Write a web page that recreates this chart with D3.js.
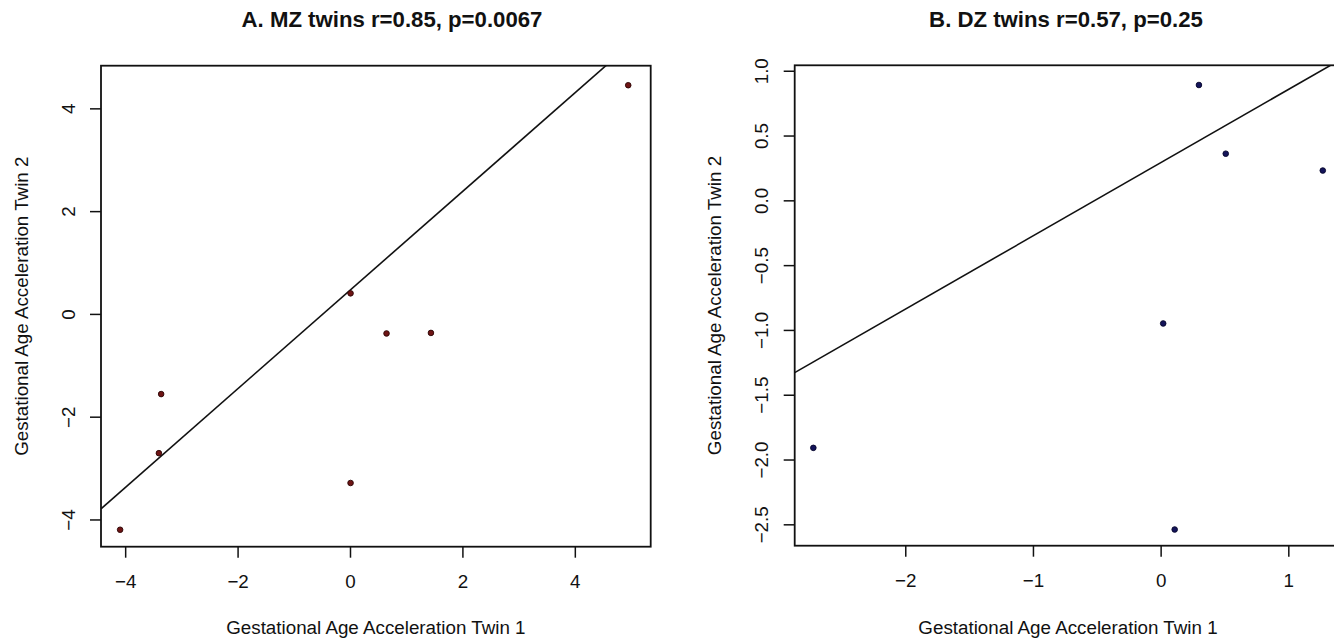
<!DOCTYPE html>
<html>
<head>
<meta charset="utf-8">
<script src="https://cdn.jsdelivr.net/npm/d3@7"></script>
<style>
  html, body { margin: 0; padding: 0; background: #ffffff; }
  svg { display: block; }
  text { font-family: "Liberation Sans", Arial, Helvetica, sans-serif; fill: #111; }
</style>
</head>
<body>
<svg id="chart" width="1334" height="640"></svg>
<script>
// Panel A: monozygotic twin pairs (twin 1 vs twin 2 gestational age acceleration)
const mzTwin1 = [0.01, 0.65, 1.44, -3.36, -3.40, 0.01, -4.09, 4.95];
const mzTwin2 = [0.40, -0.38, -0.37, -1.56, -2.71, -3.29, -4.20, 4.45];
const mzFit = { intercept: 0.46, slope: 0.96 };
const mzXLim = [-4.43, 5.35];
const mzYLim = [-4.53, 4.83];
const mzXTicks = [-4, -2, 0, 2, 4];
const mzYTicks = [-4, -2, 0, 2, 4];

// Panel B: dizygotic twin pairs
const dzTwin1 = [-2.72, 0.30, 0.51, 1.27, 0.02, 0.11];
const dzTwin2 = [-1.91, 0.89, 0.36, 0.23, -0.95, -2.54];
const dzFit = { intercept: 0.29, slope: 0.565 };
const dzXLim = [-2.866, 1.415];
const dzYLim = [-2.665, 1.042];
const dzXTicks = [-2, -1, 0, 1];
const dzYTicks = [-2.5, -2.0, -1.5, -1.0, -0.5, 0.0, 0.5, 1.0];

const titles = ["A. MZ twins r=0.85, p=0.0067", "B. DZ twins r=0.57, p=0.25"];
const xLabel = "Gestational Age Acceleration Twin 1";
const yLabel = "Gestational Age Acceleration Twin 2";

const svg = d3.select("#chart");
const BASE = 18.8;

function panel(cfg) {
  const { box, xs, ys, xLim, yLim, xTicks, yTicks, fit, title, titleX, fill, stroke, yFmt, clipId } = cfg;
  const x = d3.scaleLinear().domain(xLim).range([box.left, box.right]);
  const y = d3.scaleLinear().domain(yLim).range([box.bottom, box.top]);
  const g = svg.append("g");

  g.append("clipPath").attr("id", clipId)
    .append("rect")
    .attr("x", box.left).attr("y", box.top)
    .attr("width", box.right - box.left).attr("height", box.bottom - box.top);

  // fitted line, clipped to the plotting region
  const line = d3.line().x(d => x(d)).y(d => y(fit.intercept + fit.slope * d));
  g.append("path")
    .attr("clip-path", `url(#${clipId})`)
    .attr("d", line(xLim))
    .attr("fill", "none")
    .attr("stroke", "#111")
    .attr("stroke-width", 1.6);

  // points
  g.append("g").selectAll("circle")
    .data(xs.map((v, i) => [v, ys[i]]))
    .join("circle")
    .attr("cx", d => x(d[0]))
    .attr("cy", d => y(d[1]))
    .attr("r", 2.8)
    .attr("fill", fill)
    .attr("stroke", stroke)
    .attr("stroke-width", 0.9);

  // x axis
  const xa = g.append("g")
    .attr("transform", `translate(0,${box.bottom})`)
    .call(d3.axisBottom(x).tickValues(xTicks).tickSize(11).tickPadding(0)
      .tickFormat(d3.format("d")));
  xa.select(".domain").remove();
  xa.selectAll("line").attr("stroke", "#111").attr("stroke-width", 1.5);
  xa.selectAll("text")
    .attr("y", 35).attr("dy", "0.35em")
    .attr("font-size", BASE).attr("fill", "#111")
    .attr("font-family", "Liberation Sans, Arial, sans-serif");

  // y axis with labels written parallel to the axis
  const ya = g.append("g")
    .attr("transform", `translate(${box.left},0)`)
    .call(d3.axisLeft(y).tickValues(yTicks).tickSize(11).tickPadding(0)
      .tickFormat(yFmt));
  ya.select(".domain").remove();
  ya.selectAll("line").attr("stroke", "#111").attr("stroke-width", 1.5);
  ya.selectAll("text")
    .attr("x", null).attr("dy", "0.35em")
    .attr("text-anchor", "middle")
    .attr("transform", "translate(-33,0) rotate(-90)")
    .attr("font-size", BASE).attr("fill", "#111")
    .attr("font-family", "Liberation Sans, Arial, sans-serif");

  // plot frame
  g.append("rect")
    .attr("x", box.left).attr("y", box.top)
    .attr("width", box.right - box.left).attr("height", box.bottom - box.top)
    .attr("fill", "none").attr("stroke", "#111").attr("stroke-width", 1.8);

  // axis titles
  const cx = (box.left + box.right) / 2;
  const cy = (box.top + box.bottom) / 2;
  g.append("text")
    .attr("x", cx).attr("y", 634)
    .attr("text-anchor", "middle")
    .attr("font-size", BASE)
    .text(xLabel);
  g.append("text")
    .attr("transform", `translate(${box.left - 80},${cy}) rotate(-90)`)
    .attr("dy", "0.35em")
    .attr("text-anchor", "middle")
    .attr("font-size", BASE)
    .text(yLabel);

  // main title
  g.append("text")
    .attr("x", titleX).attr("y", 27)
    .attr("text-anchor", "middle")
    .attr("font-size", 22.2)
    .attr("font-weight", "bold")
    .text(title);
}

panel({
  box: { left: 101, right: 650.7, top: 65.7, bottom: 546.7 },
  xs: mzTwin1, ys: mzTwin2, xLim: mzXLim, yLim: mzYLim,
  xTicks: mzXTicks, yTicks: mzYTicks, fit: mzFit,
  title: titles[0], titleX: 392,
  fill: "#6e1414", stroke: "#2a0505",
  yFmt: d3.format("d"), clipId: "clipA"
});

panel({
  box: { left: 794.7, right: 1341.3, top: 65.3, bottom: 545.7 },
  xs: dzTwin1, ys: dzTwin2, xLim: dzXLim, yLim: dzYLim,
  xTicks: dzXTicks, yTicks: dzYTicks, fit: dzFit,
  title: titles[1], titleX: 1066,
  fill: "#14145a", stroke: "#05052a",
  yFmt: d3.format(".1f"), clipId: "clipB"
});
</script>
</body>
</html>
